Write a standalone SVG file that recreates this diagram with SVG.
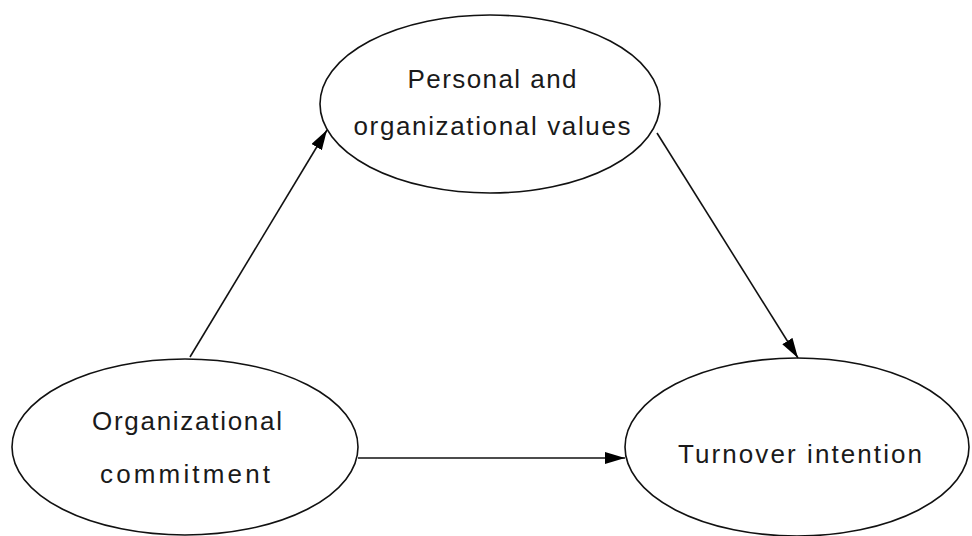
<svg xmlns="http://www.w3.org/2000/svg" width="972" height="536" viewBox="0 0 972 536">
<style>
.node ellipse{fill:#fff;stroke:#111;stroke-width:1.6}
.node text{font-family:"Liberation Sans",Arial,sans-serif;font-size:26px;fill:#1a1a1a;text-anchor:middle}
.edges line{stroke:#111;stroke-width:1.6;marker-end:url(#ah)}
</style>
<defs>
<marker id="ah" viewBox="0 0 20 12" refX="20" refY="6" markerWidth="20" markerHeight="12" markerUnits="userSpaceOnUse" orient="auto">
<path d="M0,0 L20,6 L0,12 Z" fill="#000"/>
</marker>
</defs>
<rect width="972" height="536" fill="#fff"/>
<g id="values" class="node">
<ellipse cx="490" cy="104" rx="170" ry="89"/>
<text x="492" y="88" textLength="169" lengthAdjust="spacing">Personal and</text>
<text x="492" y="135" textLength="277" lengthAdjust="spacing">organizational values</text>
</g>
<g id="commitment" class="node">
<ellipse cx="185" cy="447" rx="173" ry="88"/>
<text x="187" y="430" textLength="190" lengthAdjust="spacing">Organizational</text>
<text x="185" y="483" textLength="170" lengthAdjust="spacing">commitment</text>
</g>
<g id="turnover" class="node">
<ellipse cx="797" cy="447" rx="172" ry="89"/>
<text x="800" y="463" textLength="244" lengthAdjust="spacing">Turnover intention</text>
</g>
<g id="connectors" class="edges">
<line x1="190" y1="357" x2="327" y2="130"/>
<line x1="657" y1="133" x2="798" y2="358"/>
<line x1="358" y1="458" x2="625" y2="458"/>
</g>
</svg>
